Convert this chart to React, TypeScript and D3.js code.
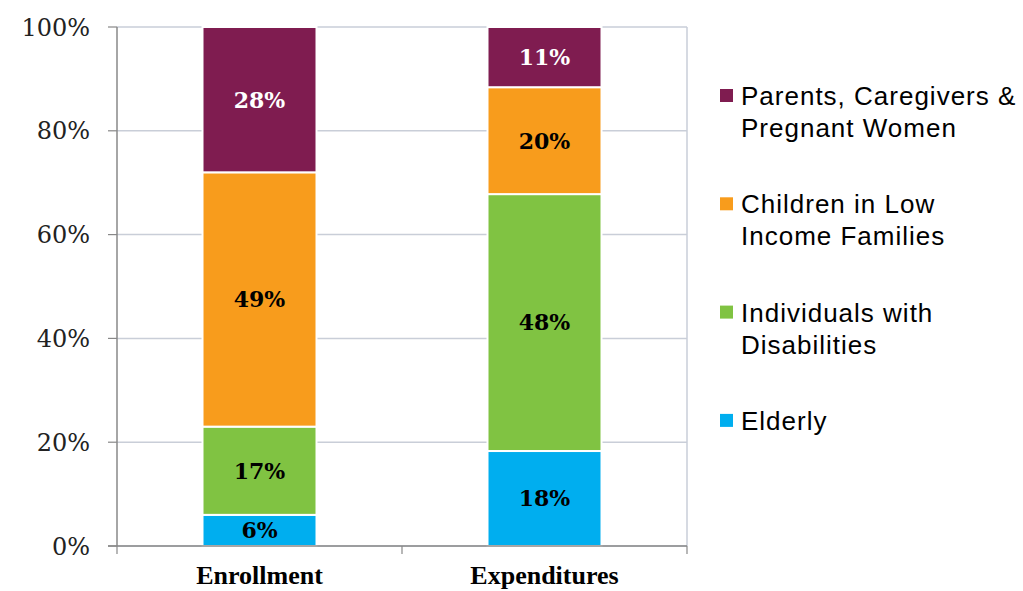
import React from "react";
import * as d3 from "d3";

const categories = ["Enrollment", "Expenditures"];
const seriesNames = [
  "Elderly",
  "Individuals with Disabilities",
  "Children in Low Income Families",
  "Parents, Caregivers & Pregnant Women",
];
const elderly = [6, 18.3];
const disabilities = [17, 49.5];
const children = [49, 20.6];
const parents = [28, 11.6];
const labelsElderly = ["6%", "18%"];
const labelsDisabilities = ["17%", "48%"];
const labelsChildren = ["49%", "20%"];
const labelsParents = ["28%", "11%"];
const yTicks = [0, 20, 40, 60, 80, 100];
const legendLines = [
  ["Parents, Caregivers &", "Pregnant Women"],
  ["Children in Low", "Income Families"],
  ["Individuals with", "Disabilities"],
  ["Elderly"],
];

const colors = ["#00aeef", "#80c342", "#f89c1c", "#7f1c50"];
const labelColors = ["#000", "#000", "#000", "#fff"];

export default function App() {
  const W = 1023, H = 591;
  const left = 117, right = 687, top = 27, bottom = 546;
  const x = d3.scaleBand().domain(categories).range([left, right]).paddingInner(0.6).paddingOuter(0.3);
  const y = d3.scaleLinear().domain([0, 100]).range([bottom, top]);
  const seriesVals = [elderly, disabilities, children, parents];
  const seriesLabels = [labelsElderly, labelsDisabilities, labelsChildren, labelsParents];
  const table = categories.map((c, i) => {
    const o: any = { cat: c };
    seriesNames.forEach((s, k) => (o[s] = seriesVals[k][i]));
    return o;
  });
  const stacked = d3.stack().keys(seriesNames)(table);
  const grid = "#c9ced8";
  return (
    <svg width={W} height={H} style={{ position: "absolute", left: 0, top: 0, background: "#fff" }}>
      {yTicks.map((t) => (
        <g key={t}>
          <line x1={left} x2={right} y1={y(t)} y2={y(t)} stroke={grid} strokeWidth={1.5} />
          <line x1={108} x2={left} y1={y(t)} y2={y(t)} stroke="#888" strokeWidth={1.2} />
          <text x={90} y={y(t)} dy="0.36em" textAnchor="end" fontFamily="'DejaVu Serif', serif" fontSize={24} fill="#222">
            {t}%
          </text>
        </g>
      ))}
      <line x1={right} x2={right} y1={top} y2={bottom} stroke={grid} strokeWidth={1.5} />
      {stacked.map((s, k) =>
        s.map((d, i) => {
          const cat = categories[i];
          const x0 = x(cat)!;
          const y0 = y(d[1]);
          const y1 = y(d[0]);
          return (
            <g key={k + "-" + i}>
              <rect x={x0} y={y0} width={x.bandwidth()} height={y1 - y0} fill={colors[k]} stroke="#fff" strokeWidth={2} />
              <text
                x={x0 + x.bandwidth() / 2}
                y={(y0 + y1) / 2}
                dy="0.36em"
                textAnchor="middle"
                fontFamily="'DejaVu Serif', serif"
                fontWeight="bold"
                fontSize={22}
                fill={labelColors[k]}
              >
                {seriesLabels[k][i]}
              </text>
            </g>
          );
        })
      )}
      <line x1={left} x2={left} y1={top} y2={bottom} stroke="#888" strokeWidth={1.5} />
      <line x1={108} x2={right} y1={bottom} y2={bottom} stroke="#888" strokeWidth={1.5} />
      {[0, 1, 2].map((i) => (
        <line key={i} x1={left + (i * (right - left)) / 2} x2={left + (i * (right - left)) / 2} y1={bottom} y2={bottom + 8} stroke="#888" strokeWidth={1.2} />
      ))}
      {categories.map((c) => (
        <text key={c} x={x(c)! + x.bandwidth() / 2} y={584} textAnchor="middle" fontFamily="'Liberation Serif', serif" fontWeight="bold" fontSize={26} fill="#000">
          {c}
        </text>
      ))}
      {legendLines.map((lines, i) => {
        const base = 105 + i * 108.3;
        const k = 3 - i;
        return (
          <g key={i}>
            <rect x={720} y={base - 16} width={13} height={13} fill={colors[k]} />
            {lines.map((l, j) => (
              <text key={j} x={741} y={base + j * 32} fontFamily="'Liberation Sans', Arial, sans-serif" fontSize={26} letterSpacing={1} fill="#000">
                {l}
              </text>
            ))}
          </g>
        );
      })}
    </svg>
  );
}
